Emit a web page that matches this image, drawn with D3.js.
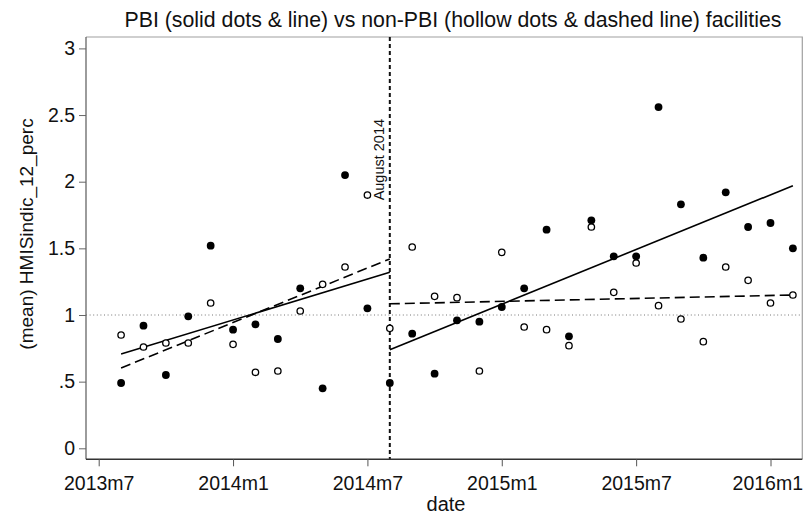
<!DOCTYPE html>
<html>
<head>
<meta charset="utf-8">
<script src="https://cdn.jsdelivr.net/npm/d3@7"></script>
<style>
  html, body { margin: 0; padding: 0; background: #fff; }
  svg { display: block; font-family: "Liberation Sans", Arial, sans-serif; }
</style>
</head>
<body>
<svg id="chart" width="804" height="517"></svg>
<script>
// Monthly periods (Stata %tm style labels)
const periods = [
  "2013m8","2013m9","2013m10","2013m11","2013m12","2014m1","2014m2","2014m3",
  "2014m4","2014m5","2014m6","2014m7","2014m8","2014m9","2014m10","2014m11",
  "2014m12","2015m1","2015m2","2015m3","2015m4","2015m5","2015m6","2015m7",
  "2015m8","2015m9","2015m10","2015m11","2015m12","2016m1","2016m2"
];
// (mean) HMISindic_12_perc, PBI facilities
const pbi = [
  0.49, 0.92, 0.55, 0.99, 1.52, 0.89, 0.93, 0.82,
  1.20, 0.45, 2.05, 1.05, 0.49, 0.86, 0.56, 0.96,
  0.95, 1.06, 1.20, 1.64, 0.84, 1.71, 1.44, 1.44,
  2.56, 1.83, 1.43, 1.92, 1.66, 1.69, 1.50
];
// (mean) HMISindic_12_perc, non-PBI facilities
const nonPbi = [
  0.85, 0.76, 0.79, 0.79, 1.09, 0.78, 0.57, 0.58,
  1.03, 1.23, 1.36, 1.90, 0.90, 1.51, 1.14, 1.13,
  0.58, 1.47, 0.91, 0.89, 0.77, 1.66, 1.17, 1.39,
  1.07, 0.97, 0.80, 1.36, 1.26, 1.09, 1.15
];
const xTickLabels = ["2013m7","2014m1","2014m7","2015m1","2015m7","2016m1"];
const yTickValues = [0, 0.5, 1, 1.5, 2, 2.5, 3];
const yTickLabels = ["0", ".5", "1", "1.5", "2", "2.5", "3"];
const interventionMonth = "2014m8";
const interventionLabel = "August 2014";
const referenceLevel = 1;

// month string -> months since 2013m7
function monthIndex(s) {
  const [y, m] = s.split("m").map(Number);
  return (y - 2013) * 12 + (m - 7);
}

const svg = d3.select("#chart");
const W = 804;
const plot = { left: 86, right: 802.3, top: 37, bottom: 459.3 };
const font = "'Liberation Sans', Arial, sans-serif";

const x = d3.scaleLinear().domain([-0.567, 31.42]).range([plot.left, plot.right]);
const y = d3.scaleLinear().domain([-0.0825, 3.0855]).range([plot.bottom, plot.top]);

const rows = periods.map((p, i) => ({ t: monthIndex(p), pbi: pbi[i], non: nonPbi[i] }));
const cut = monthIndex(interventionMonth);
const firstT = d3.min(rows, d => d.t), lastT = d3.max(rows, d => d.t);

// plot region outline (top and right)
svg.append("path")
  .attr("d", `M${plot.left},${plot.top}H${plot.right}V${plot.bottom}`)
  .attr("fill", "none").attr("stroke", "#a0a0a0").attr("stroke-width", 1.2);

// reference line at 1
svg.append("line")
  .attr("x1", plot.left).attr("x2", plot.right)
  .attr("y1", y(referenceLevel)).attr("y2", y(referenceLevel))
  .attr("stroke", "#777").attr("stroke-width", 1).attr("stroke-dasharray", "1,2.6");

// intervention line
svg.append("line")
  .attr("x1", x(cut)).attr("x2", x(cut))
  .attr("y1", plot.top).attr("y2", plot.bottom)
  .attr("stroke", "#111").attr("stroke-width", 2).attr("stroke-dasharray", "4,3");

svg.append("text")
  .attr("transform", `translate(${x(cut) - 6},${y(1.86)}) rotate(-90)`)
  .attr("font-size", 14.5).attr("fill", "#111")
  .text(interventionLabel);

// least-squares line over a subset, drawn across [t0, t1]
function lfit(sub, key, t0, t1) {
  const mx = d3.mean(sub, d => d.t), my = d3.mean(sub, d => d[key]);
  const sxy = d3.sum(sub, d => (d.t - mx) * (d[key] - my));
  const sxx = d3.sum(sub, d => (d.t - mx) ** 2);
  const b = sxy / sxx, a = my - b * mx;
  return [{ t: t0, v: a + b * t0 }, { t: t1, v: a + b * t1 }];
}
const pre = rows.filter(d => d.t < cut), post = rows.filter(d => d.t >= cut);
const line = d3.line().x(d => x(d.t)).y(d => y(d.v));
const fits = [
  { pts: lfit(pre, "pbi", firstT, cut), dash: null },
  { pts: lfit(pre, "non", firstT, cut), dash: "10,5" },
  { pts: lfit(post, "pbi", cut, lastT), dash: null },
  { pts: lfit(post, "non", cut, lastT), dash: "10,5" }
];
svg.append("g").selectAll("path").data(fits).join("path")
  .attr("d", d => line(d.pts))
  .attr("fill", "none").attr("stroke", "#000").attr("stroke-width", 1.6)
  .attr("stroke-dasharray", d => d.dash);

// hollow dots: non-PBI
svg.append("g").selectAll("circle").data(rows).join("circle")
  .attr("cx", d => x(d.t)).attr("cy", d => y(d.non)).attr("r", 3.2)
  .attr("fill", "#fff").attr("stroke", "#000").attr("stroke-width", 1.3);

// solid dots: PBI
svg.append("g").selectAll("circle").data(rows).join("circle")
  .attr("cx", d => x(d.t)).attr("cy", d => y(d.pbi)).attr("r", 3.9)
  .attr("fill", "#000");

// y axis
const yAxis = d3.axisLeft(y).tickValues(yTickValues)
  .tickFormat((d, i) => yTickLabels[i]).tickSize(7).tickPadding(4);
const gy = svg.append("g").attr("transform", `translate(${plot.left},0)`).call(yAxis);
gy.select(".domain").attr("d", `M0,${plot.top}V${plot.bottom}`).attr("stroke", "#666").attr("stroke-width", 1.3);
gy.selectAll(".tick line").attr("stroke", "#666");
gy.selectAll(".tick text").attr("font-size", 19.5).attr("fill", "#111").attr("font-family", font);

// x axis
const xAxis = d3.axisBottom(x).tickValues(xTickLabels.map(monthIndex))
  .tickFormat((d, i) => xTickLabels[i]).tickSize(7).tickPadding(10);
const gx = svg.append("g").attr("transform", `translate(0,${plot.bottom})`).call(xAxis);
gx.select(".domain").attr("d", `M${plot.left},0H${plot.right}`).attr("stroke", "#333").attr("stroke-width", 1.5);
gx.selectAll(".tick line").attr("stroke", "#555");
gx.selectAll(".tick text").attr("font-size", 19.5).attr("fill", "#111").attr("font-family", font);
// keep the last tick label inside the canvas edge
gx.selectAll(".tick text").each(function () {
  const b = this.getBBox();
  const tx = +this.parentNode.getAttribute("transform").match(/translate\(([-\d.]+)/)[1];
  const overflow = tx + b.x + b.width - (W - 1);
  if (overflow > 0) d3.select(this).attr("dx", -overflow);
});

// titles
svg.append("text").attr("x", 453).attr("y", 27).attr("text-anchor", "middle")
  .attr("font-size", 21.3).attr("fill", "#111")
  .text("PBI (solid dots & line) vs non-PBI (hollow dots & dashed line) facilities");
svg.append("text").attr("x", 446).attr("y", 511).attr("text-anchor", "middle")
  .attr("font-size", 20).attr("fill", "#111").text("date");
svg.append("text").attr("transform", "translate(33,234) rotate(-90)")
  .attr("text-anchor", "middle").attr("font-size", 19).attr("fill", "#111")
  .text("(mean) HMISindic_12_perc");
</script>
</body>
</html>
